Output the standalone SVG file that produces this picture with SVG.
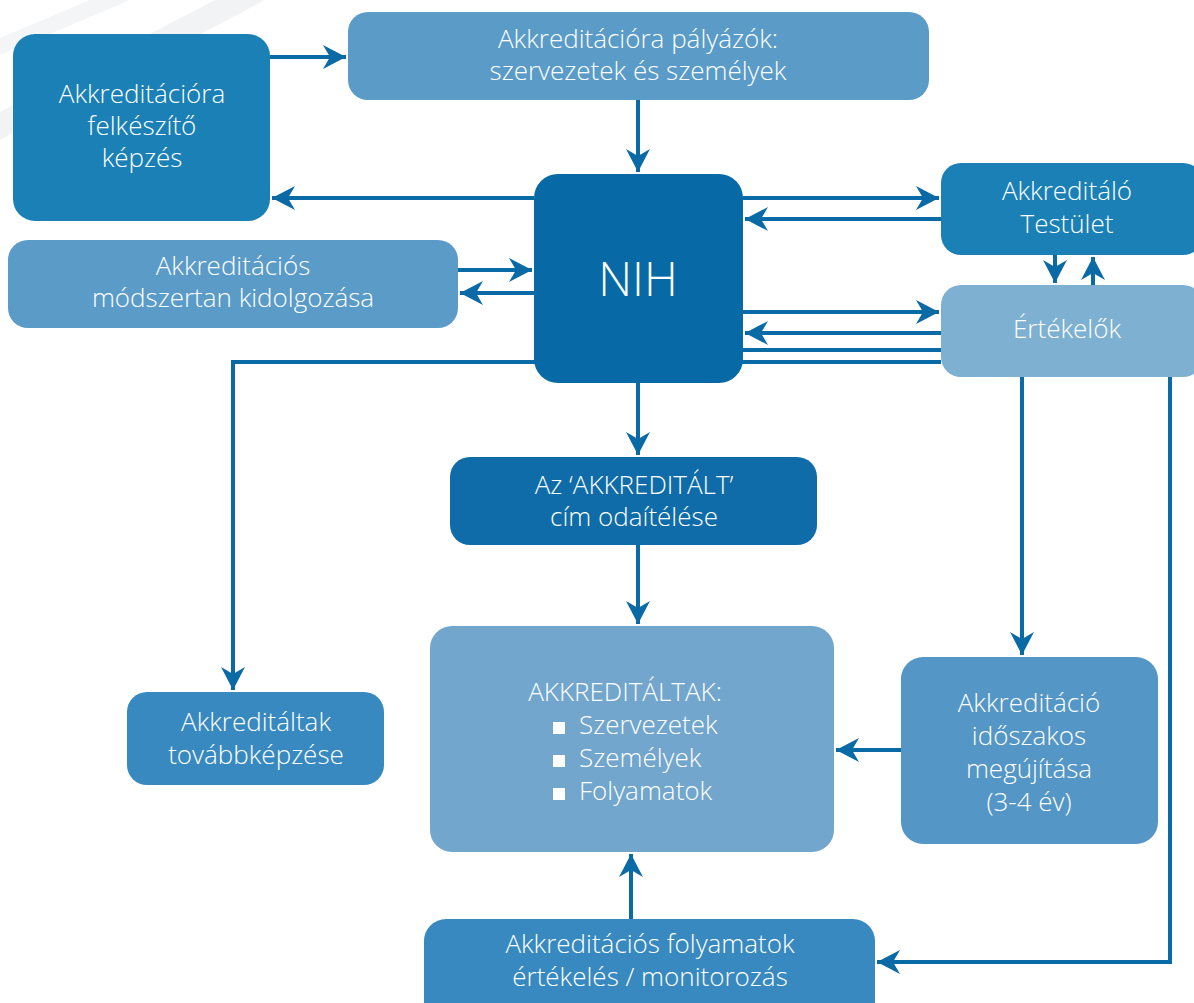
<svg xmlns="http://www.w3.org/2000/svg" width="1194" height="1003" viewBox="0 0 1194 1003">
<defs>
<style>
.t{font-family:"Open Sans","Liberation Sans",sans-serif;font-weight:300;font-size:26px;fill:#ffffff;text-anchor:middle}
.l{fill:none;stroke:#0a6aa6;stroke-width:4}
</style>
<marker id="ah" viewBox="-24 -13 26 26" markerWidth="26" markerHeight="26" refX="0" refY="0" orient="auto" markerUnits="userSpaceOnUse">
<path d="M0,0 L-23,-12 L-16,0 L-23,12 Z" fill="#0a6aa6"/>
</marker>
</defs>
<rect width="1194" height="1003" fill="#ffffff"/>
<g id="bg">
<polygon points="215,0 265,0 0,140 0,112" fill="#f2f3f4"/>
<polygon points="90,0 130,0 0,55 0,38" fill="#f4f5f6"/>
</g>
<g id="connectors">
<path class="l" d="M270,57 H346" marker-end="url(#ah)"/>
<path class="l" d="M534,198 H272" marker-end="url(#ah)"/>
<path class="l" d="M638,100 V172" marker-end="url(#ah)"/>
<path class="l" d="M743,198 H939" marker-end="url(#ah)"/>
<path class="l" d="M941,219 H745" marker-end="url(#ah)"/>
<path class="l" d="M1055,255 V283" marker-end="url(#ah)"/>
<path class="l" d="M1093,285 V257" marker-end="url(#ah)"/>
<path class="l" d="M743,312 H939" marker-end="url(#ah)"/>
<path class="l" d="M941,333 H745" marker-end="url(#ah)"/>
<path class="l" d="M743,350 H941"/>
<path class="l" d="M941,362 H233 V690" marker-end="url(#ah)"/>
<path class="l" d="M458,270 H532" marker-end="url(#ah)"/>
<path class="l" d="M534,293 H460" marker-end="url(#ah)"/>
<path class="l" d="M638,383 V455" marker-end="url(#ah)"/>
<path class="l" d="M638,545 V624" marker-end="url(#ah)"/>
<path class="l" d="M1022,377 V655" marker-end="url(#ah)"/>
<path class="l" d="M1170,377 V962 H877" marker-end="url(#ah)"/>
<path class="l" d="M901,750 H836" marker-end="url(#ah)"/>
<path class="l" d="M631,919 V854" marker-end="url(#ah)"/>
</g>
<g id="n-felkeszito">
<rect x="13" y="34" width="257" height="187" rx="22" fill="#1a80b6"/>
<text class="t" x="142" y="103">Akkreditációra</text>
<text class="t" x="142" y="135">felkészítő</text>
<text class="t" x="142" y="167">képzés</text>
</g>
<g id="n-palyazok">
<rect x="348" y="12" width="581" height="88" rx="20" fill="#5a9bc8"/>
<text class="t" x="638" y="48">Akkreditációra pályázók:</text>
<text class="t" x="638" y="80">szervezetek és személyek</text>
</g>
<g id="n-nih">
<rect x="534" y="174" width="209" height="209" rx="24" fill="#076aa7"/>
<text class="t" x="638" y="296" style="font-size:47px">NIH</text>
</g>
<g id="n-testulet">
<rect x="941" y="163" width="262" height="92" rx="20" fill="#1a80b6"/>
<text class="t" x="1067" y="200">Akkreditáló</text>
<text class="t" x="1067" y="233">Testület</text>
</g>
<g id="n-ertekelok">
<rect x="941" y="285" width="262" height="92" rx="20" fill="#7eb0d1"/>
<text class="t" x="1067" y="338">Értékelők</text>
</g>
<g id="n-modszertan">
<rect x="8" y="240" width="450" height="88" rx="20" fill="#5a9bc8"/>
<text class="t" x="233" y="275">Akkreditációs</text>
<text class="t" x="233" y="307">módszertan kidolgozása</text>
</g>
<g id="n-odaitelese">
<rect x="450" y="457" width="367" height="88" rx="20" fill="#0f6ca8"/>
<text class="t" x="634" y="494">Az ‘AKKREDITÁLT’</text>
<text class="t" x="634" y="526">cím odaítélése</text>
</g>
<g id="n-akkreditaltak">
<rect x="430" y="626" width="404" height="226" rx="22" fill="#72a6cd"/>
<text class="t" x="625" y="701">AKKREDITÁLTAK:</text>
<rect x="553" y="722" width="12" height="12" fill="#ffffff"/>
<rect x="553" y="755" width="12" height="12" fill="#ffffff"/>
<rect x="553" y="788" width="12" height="12" fill="#ffffff"/>
<text class="t" x="579" y="734" style="text-anchor:start">Szervezetek</text>
<text class="t" x="579" y="767" style="text-anchor:start">Személyek</text>
<text class="t" x="579" y="800" style="text-anchor:start">Folyamatok</text>
</g>
<g id="n-megujitas">
<rect x="901" y="657" width="257" height="187" rx="22" fill="#5496c5"/>
<text class="t" x="1029" y="712">Akkreditáció</text>
<text class="t" x="1029" y="745">időszakos</text>
<text class="t" x="1029" y="778">megújítása</text>
<text class="t" x="1029" y="811">(3-4 év)</text>
</g>
<g id="n-tovabbkepzes">
<rect x="127" y="692" width="257" height="93" rx="20" fill="#3889c0"/>
<text class="t" x="256" y="731">Akkreditáltak</text>
<text class="t" x="256" y="764">továbbképzése</text>
</g>
<g id="n-monitorozas">
<rect x="424" y="919" width="451" height="110" rx="22" fill="#3889c0"/>
<text class="t" x="650" y="953">Akkreditációs folyamatok</text>
<text class="t" x="650" y="986">értékelés / monitorozás</text>
</g>
</svg>
